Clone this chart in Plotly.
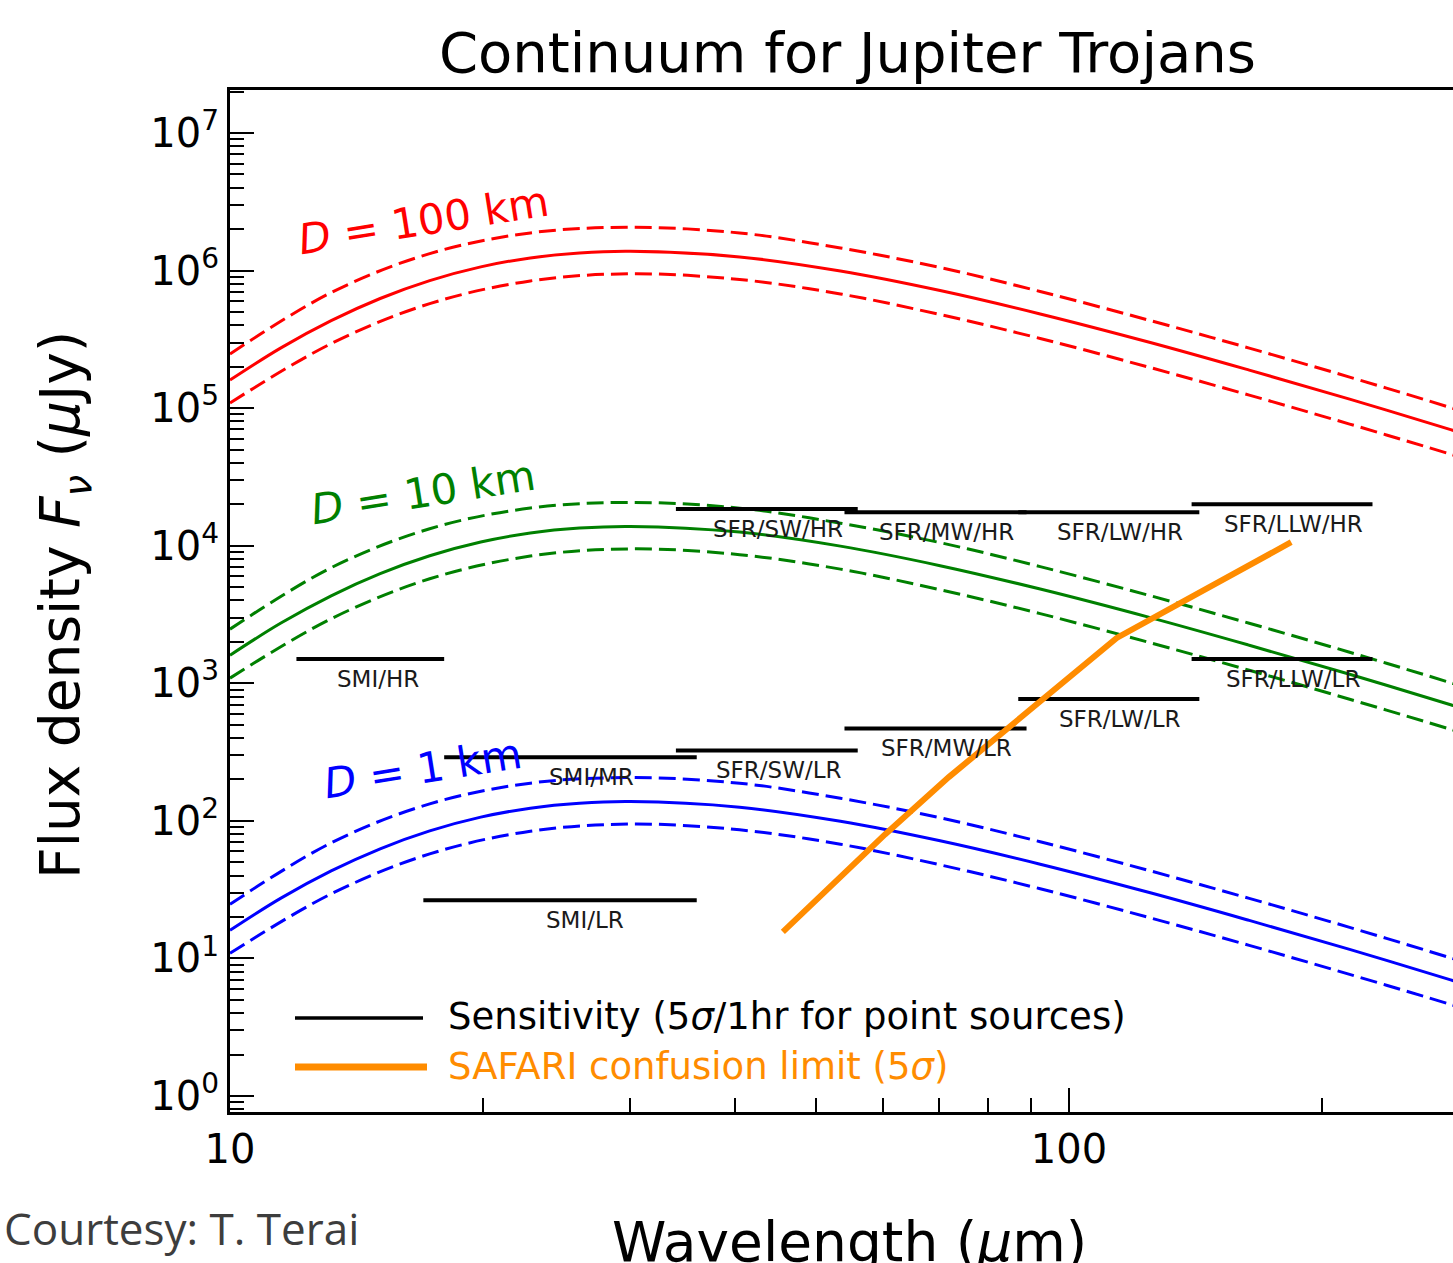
import numpy as np
import plotly.graph_objects as go

# ---------------- data ----------------
# thermal continuum models (wavelength in micron, flux density in micro-Jy)
wl_mid = [10, 11.5, 13.2, 15.1, 17.3, 19.9, 22.8, 26.1, 30, 40.5, 53.4, 70.2, 92.4, 125, 164, 216, 285, 300]
wl_env = [10, 13.2, 17.3, 22.8, 30, 40.5, 53.4, 70.2, 92.4, 125, 164, 216, 285, 300]

d100_mid = [1.600e5, 2.742e5, 4.325e5, 6.266e5, 8.453e5, 1.064e6, 1.236e6, 1.343e6, 1.380e6,
            1.256e6, 9.93e5, 7.16e5, 4.84e5, 3.00e5, 1.89e5, 1.164e5, 6.98e4, 6.33e4]
d100_hi = [2.475e5, 6.92e5, 1.329e6, 1.879e6, 2.064e6, 1.876e6, 1.459e6, 1.053e6, 7.05e5,
           4.33e5, 2.732e5, 1.682e5, 1.009e5, 9.14e4]
d100_lo = [1.090e5, 2.946e5, 5.75e5, 8.41e5, 9.48e5, 8.61e5, 6.76e5, 4.79e5, 3.21e5,
           1.971e5, 1.244e5, 7.66e4, 4.63e4, 4.20e4]

d10_mid = [1.600e3, 2.742e3, 4.325e3, 6.266e3, 8.453e3, 1.064e4, 1.236e4, 1.343e4, 1.380e4,
           1.256e4, 9.93e3, 7.16e3, 4.84e3, 3.00e3, 1.89e3, 1.164e3, 6.98e2, 6.33e2]
d10_hi = [2.475e3, 6.92e3, 1.329e4, 1.879e4, 2.064e4, 1.876e4, 1.459e4, 1.053e4, 7.05e3,
          4.33e3, 2.732e3, 1.682e3, 1.009e3, 9.14e2]
d10_lo = [1.090e3, 2.946e3, 5.75e3, 8.41e3, 9.48e3, 8.61e3, 6.76e3, 4.79e3, 3.21e3,
          1.971e3, 1.244e3, 7.66e2, 4.63e2, 4.20e2]

d1_mid = [16.00, 27.42, 43.25, 62.66, 84.53, 106.4, 123.6, 134.3, 138.0,
          125.6, 99.3, 71.6, 48.4, 30.0, 18.9, 11.64, 6.98, 6.33]
d1_hi = [24.75, 69.2, 132.9, 187.9, 206.4, 187.6, 145.9, 105.3, 70.5,
         43.3, 27.32, 16.82, 10.09, 9.14]
d1_lo = [10.90, 29.46, 57.5, 84.1, 94.8, 86.1, 67.6, 47.9, 32.1,
         19.71, 12.44, 7.66, 4.63, 4.20]

diam_labels = ["<i>D</i> = 100 km", "<i>D</i> = 10 km", "<i>D</i> = 1 km"]
diam_label_wl = [17.0, 17.0, 17.0]
diam_label_flux = [2.33e6, 2.42e4, 2.42e2]

# sensitivity bands (5 sigma / 1 hr, point sources)
band_names = ["SMI/HR", "SMI/MR", "SMI/LR",
              "SFR/SW/HR", "SFR/MW/HR", "SFR/LW/HR", "SFR/LLW/HR",
              "SFR/SW/LR", "SFR/MW/LR", "SFR/LW/LR", "SFR/LLW/LR"]
band_lo = [12, 18, 17, 34, 54, 87, 140, 34, 54, 87, 140]
band_hi = [18, 36, 36, 56, 89, 143, 230, 56, 89, 143, 230]
band_flux = [1500, 290, 26.5, 1.85e4, 1.75e4, 1.75e4, 2.0e4, 325, 470, 770, 1500]

# SAFARI confusion limit (5 sigma)
conf_wl = [45.6, 60.4, 71.9, 114, 184]
conf_flux = [15.6, 80, 208, 2135, 1.06e4]

# axis tick labels
x_tickvals = [10, 100]
x_ticktext = ["10", "100"]
y_tickvals = [1, 10, 1e2, 1e3, 1e4, 1e5, 1e6, 1e7]
y_ticktext = ["10<sup>%d</sup>" % k for k in range(8)]

# ---------------- figure ----------------
RED, GREEN, BLUE, ORANGE = "#ff0000", "#008000", "#0000ff", "#ff8c00"
FONT = "DejaVu Sans"
DASH = "17px,7px"

fig = go.Figure()

def add_curve(x, y, color, dash):
    fig.add_trace(go.Scatter(
        x=x, y=y, mode="lines",
        line=dict(color=color, width=3, dash=dash, shape="spline", smoothing=1.0),
        showlegend=False, hoverinfo="skip"))

for mid, hi, lo, col in [(d100_mid, d100_hi, d100_lo, RED),
                         (d10_mid, d10_hi, d10_lo, GREEN),
                         (d1_mid, d1_hi, d1_lo, BLUE)]:
    add_curve(wl_env, hi, col, DASH)
    add_curve(wl_mid, mid, col, "solid")
    add_curve(wl_env, lo, col, DASH)

for lo, hi, f in zip(band_lo, band_hi, band_flux):
    fig.add_trace(go.Scatter(
        x=[lo, hi], y=[f, f], mode="lines",
        line=dict(color="black", width=4),
        showlegend=False, hoverinfo="skip"))

fig.add_trace(go.Scatter(
    x=conf_wl, y=conf_flux, mode="lines",
    line=dict(color=ORANGE, width=6),
    showlegend=False, hoverinfo="skip"))

annotations = []
for name, lo, hi, f in zip(band_names, band_lo, band_hi, band_flux):
    annotations.append(dict(
        x=np.log10((lo + hi) / 2.0), y=np.log10(f), xref="x", yref="y",
        text=name, showarrow=False, yshift=-20,
        font=dict(family=FONT, size=23, color="#1a1a1a"),
        xanchor="center", yanchor="middle"))

for txt, wl, fl, col in zip(diam_labels, diam_label_wl, diam_label_flux, [RED, GREEN, BLUE]):
    annotations.append(dict(
        x=np.log10(wl), y=np.log10(fl), xref="x", yref="y",
        text=txt, showarrow=False, textangle=-9,
        font=dict(family=FONT, size=42, color=col),
        xanchor="center", yanchor="middle"))

# geometry helpers (pixel -> paper) for text placed outside the data
L, T, B, W, H = 230, 90, 151, 1453, 1263
PW, PH = W - L, H - T - B
def px(xp):
    return (xp - L) / PW
def py(yp):
    return (H - B - yp) / PH

annotations += [
    dict(x=px(849), y=py(1242), xref="paper", yref="paper",
         text="Wavelength (<i>μ</i>m)", showarrow=False,
         font=dict(family=FONT, size=55, color="black"),
         xanchor="center", yanchor="middle"),
    dict(x=px(64), y=py(605), xref="paper", yref="paper",
         text="Flux density <i>F</i><sub><i>ν</i></sub> (<i>μ</i>Jy)", showarrow=False,
         textangle=-90, font=dict(family=FONT, size=55, color="black"),
         xanchor="center", yanchor="middle"),
    dict(x=px(848), y=py(53), xref="paper", yref="paper",
         text="Continuum for Jupiter Trojans", showarrow=False,
         font=dict(family=FONT, size=56, color="black"),
         xanchor="center", yanchor="middle"),
    dict(x=px(2), y=py(1228), xref="paper", yref="paper",
         text="Courtesy: T. Terai", showarrow=False,
         font=dict(family="Open Sans", size=44, color="#3d3d3d"),
         xanchor="left", yanchor="middle"),
    dict(x=px(446), y=py(1016), xref="paper", yref="paper",
         text="Sensitivity (5<i>σ</i>/1hr for point sources)", showarrow=False,
         font=dict(family=FONT, size=37, color="black"),
         xanchor="left", yanchor="middle"),
    dict(x=px(446), y=py(1066), xref="paper", yref="paper",
         text="SAFARI confusion limit (5<i>σ</i>)", showarrow=False,
         font=dict(family=FONT, size=37, color=ORANGE),
         xanchor="left", yanchor="middle"),
]

shapes = [
    dict(type="line", xref="paper", yref="paper", x0=px(295), x1=px(423),
         y0=py(1018), y1=py(1018), line=dict(color="black", width=3.5)),
    dict(type="line", xref="paper", yref="paper", x0=px(295), x1=px(427),
         y0=py(1067), y1=py(1067), line=dict(color=ORANGE, width=7)),
]

x_minor = [20, 30, 40, 50, 60, 70, 80, 90, 200]
y_minor = [m * 10 ** e for e in range(-1, 8) for m in range(2, 10)]

x_max_log = 1 + PW / 839.0
y_min_log = -(1112 - 1096) / 137.57
y_max_log = 7 + (133 - 90) / 137.57

fig.update_layout(
    width=W, height=H,
    margin=dict(l=L, r=0, t=T, b=B, pad=0),
    paper_bgcolor="white", plot_bgcolor="white",
    annotations=annotations, shapes=shapes,
    showlegend=False,
    font=dict(family=FONT, color="black"),
    xaxis=dict(
        type="log", range=[1, x_max_log], automargin=False,
        showgrid=False, zeroline=False,
        showline=True, linecolor="black", linewidth=3, mirror=True,
        ticks="inside", ticklen=24, tickwidth=2, tickcolor="black",
        tickvals=x_tickvals, ticktext=x_ticktext,
        tickfont=dict(family=FONT, size=40, color="black"),
        minor=dict(tickvals=x_minor, ticks="inside", ticklen=14,
                   tickwidth=2, tickcolor="black", showgrid=False),
    ),
    yaxis=dict(
        type="log", range=[y_min_log, y_max_log], automargin=False,
        showgrid=False, zeroline=False,
        showline=True, linecolor="black", linewidth=3, mirror=False,
        ticks="inside", ticklen=24, tickwidth=2, tickcolor="black",
        tickvals=y_tickvals, ticktext=y_ticktext,
        tickfont=dict(family=FONT, size=40, color="black"),
        minor=dict(tickvals=y_minor, ticks="inside", ticklen=14,
                   tickwidth=2, tickcolor="black", showgrid=False),
    ),
)

fig.write_html("out.html")
